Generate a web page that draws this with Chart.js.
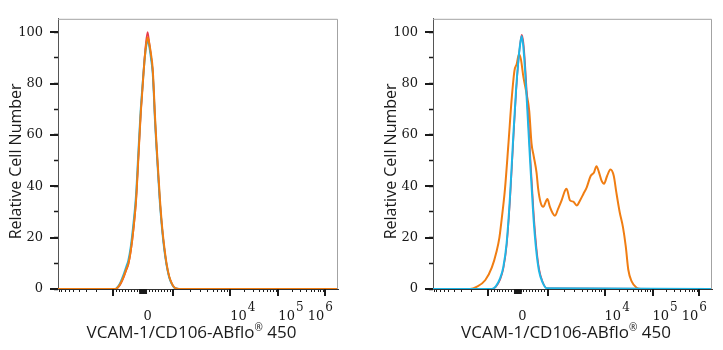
<!DOCTYPE html>
<html>
<head>
<meta charset="utf-8">
<script src="https://cdn.jsdelivr.net/npm/chart.js@4.4.1/dist/chart.umd.min.js"></script>
<style>
  body { margin: 0; background: #fff; }
  #wrap { position: relative; width: 723px; height: 350px; }
  canvas { position: absolute; top: 0; }
  #left { left: 0; }
  #right { left: 375px; }
</style>
</head>
<body>
<div id="wrap">
  <canvas id="left" width="361" height="350"></canvas>
  <canvas id="right" width="348" height="350"></canvas>
</div>
<script>
// x is the display channel of the histogram bin (0..1000 across the axis)

// left panel: all three samples sit on the same peak
var xLeft = [0, 205, 215, 224, 235, 245, 251, 260, 270, 279, 287, 295, 301, 307, 313, 320, 326, 332, 338, 342, 346, 351, 356, 364, 372, 380, 388, 397, 406, 414, 422, 432, 1000]
var orangeLeft = [0, 0, 0.8, 2.3, 5, 8, 9.7, 15, 24, 35, 51, 67.5, 77, 86.3, 93.5, 98, 95.5, 91.5, 86, 78, 68, 58, 49, 35, 24, 16, 9.7, 5, 2.3, 0.8, 0.2, 0, 0]
var redLeft = [0, 0, 0.6, 2, 4.6, 7.6, 9.4, 14.6, 23.5, 34.5, 50.5, 67, 77, 87, 95, 100, 96, 91, 85, 77, 67, 57, 48, 34, 23.5, 15.5, 9.4, 4.8, 2.2, 0.7, 0.2, 0, 0]
var cyanLeft = [0, 0, 1.0, 2.8, 5.8, 9, 11, 16.5, 26, 37, 53, 69, 78, 86.5, 93, 97, 94.5, 90, 84.5, 76.5, 66.5, 56.5, 47.5, 33.5, 23, 15, 9.2, 4.6, 2.1, 0.7, 0.2, 0, 0]

// right panel: controls on the peak, stained sample broad
var xPeakRight = [0, 210, 225, 240, 252, 264, 276, 288, 298, 306, 312, 318, 324, 330, 338, 348, 360, 370, 380, 393, 408, 1000]
var cyanRight = [0, 0, 1, 4, 8.5, 18, 36, 60, 78, 89, 95, 98.5, 94, 85, 70, 50, 28, 15, 7, 2.5, 0.3, 0]
var redRight = [0, 0, 0.8, 3.5, 7.8, 17, 34.5, 58, 77, 88.5, 95, 99, 96, 88, 73, 53, 31, 17, 8, 2.8, 0.3, 0]
var xBroadRight = [0, 133, 156, 187, 211, 228, 238, 246, 258, 270, 282, 292, 300, 308, 315, 324, 336, 345, 353, 361, 371, 377, 385, 395, 410, 419, 429, 437, 449, 461, 473, 479, 491, 503, 515, 527, 539, 551, 565, 577, 586, 595, 604, 613, 624, 636, 648, 657, 669, 681, 691, 700, 712, 730, 745, 1000]
var orangeRight = [0, 0, 0.8, 3.4, 8.4, 14.7, 20, 27, 39, 56, 74, 85, 87.6, 91.4, 89.5, 82.6, 75.7, 69.3, 56.8, 51.7, 45.4, 39, 34, 32, 35, 32, 29.5, 28.5, 31.4, 34.5, 38.3, 39, 34.5, 34, 32.5, 34.5, 37, 39.6, 44, 45.4, 47.8, 45.4, 42.2, 41, 44, 46.5, 44, 37.7, 30, 24, 16.5, 7.5, 3, 0.5, 0, 0]

// axis: channel of -10^3, 0, 10^3, 10^4, 10^5, 10^6
var decadePos = [197.5, 304, 412, 615, 787, 955]
var xTickLabels = ['0', '10^4', '10^5', '10^6']
var xTickLabelPos = [320, 615, 787, 955]
var yTickValues = [0, 20, 40, 60, 80, 100]

var COLORS = {orange: '#f07d12', cyan: '#1fb6e6', red: '#e8394a'}

// minor / major tick channels for the biexponential axis
var majorTicks = [decadePos[0], decadePos[2], decadePos[3], decadePos[4], decadePos[5]]
var blockTicks = []
var minorTicks = []
for (var m = 2; m <= 9; m++) minorTicks.push(decadePos[0] - 203 * Math.log10(m))
for (var k = 1; k <= 9; k++) {
  minorTicks.push(decadePos[1] - k * (decadePos[1] - decadePos[0]) / 10)
  minorTicks.push(decadePos[1] + k * (decadePos[2] - decadePos[1]) / 10)
  blockTicks.push(decadePos[1] - k * (decadePos[1] - decadePos[0]) / 80)
  blockTicks.push(decadePos[1] + k * (decadePos[2] - decadePos[1]) / 80)
}
blockTicks.push(decadePos[1])
for (var d = 2; d <= 4; d++) {
  for (var m = 2; m <= 9; m++) minorTicks.push(decadePos[d] + (decadePos[d + 1] - decadePos[d]) * Math.log10(m))
}
var allTicks = majorTicks.concat(minorTicks, blockTicks).sort(function (a, b) { return a - b })

function pts(xs, ys) {
  return xs.map(function (x, i) { return {x: x, y: ys[i]} })
}

function line(xs, ys, color, width) {
  return {
    data: pts(xs, ys),
    borderColor: color,
    borderWidth: width,
    pointRadius: 0,
    fill: false,
    cubicInterpolationMode: 'monotone'
  }
}

var axisDecor = {
  id: 'axisDecor',
  afterDraw: function (chart) {
    var ctx = chart.ctx, a = chart.chartArea, xs = chart.scales.x, ys = chart.scales.y
    ctx.save()
    // frame top / right
    ctx.strokeStyle = '#a3a3a3'
    ctx.lineWidth = 1
    ctx.beginPath()
    ctx.moveTo(a.left, a.top + 0.5)
    ctx.lineTo(a.right - 0.5, a.top + 0.5)
    ctx.lineTo(a.right - 0.5, a.bottom)
    ctx.stroke()

    // long ticks
    ctx.strokeStyle = '#1a1a1a'
    ctx.lineWidth = 2
    yTickValues.forEach(function (v) {
      var py = Math.round(ys.getPixelForValue(v))
      ctx.beginPath(); ctx.moveTo(a.left - 8, py); ctx.lineTo(a.left, py); ctx.stroke()
    })
    majorTicks.forEach(function (v) {
      var px = Math.round(xs.getPixelForValue(v))
      ctx.beginPath(); ctx.moveTo(px, a.bottom); ctx.lineTo(px, a.bottom + 7); ctx.stroke()
    })
    ctx.lineWidth = 1
    blockTicks.forEach(function (v) {
      var px = xs.getPixelForValue(v)
      ctx.beginPath(); ctx.moveTo(px, a.bottom); ctx.lineTo(px, a.bottom + 5); ctx.stroke()
    })

    // x tick labels, 10 with raised exponent
    ctx.fillStyle = '#1a1a1a'
    ctx.textBaseline = 'alphabetic'
    xTickLabels.forEach(function (lab, i) {
      var px = xs.getPixelForValue(xTickLabelPos[i])
      var parts = lab.split('^')
      ctx.font = '13px "DejaVu Serif"'
      if (parts.length === 1) {
        ctx.textAlign = 'center'
        ctx.fillText(lab, px, 320)
        return
      }
      var w1 = ctx.measureText(parts[0]).width
      ctx.font = '12px "DejaVu Serif"'
      var w2 = ctx.measureText(parts[1]).width
      var x0 = Math.min(px, a.right - 5 - w1 - 1 - w2)
      ctx.textAlign = 'left'
      ctx.font = '13px "DejaVu Serif"'
      ctx.fillText(parts[0], x0, 320)
      ctx.font = '12px "DejaVu Serif"'
      ctx.fillText(parts[1], x0 + w1 + 1, 311)
    })

    // x title
    var t1 = 'VCAM-1/CD106-ABflo', t2 = '\u00AE', t3 = ' 450'
    ctx.font = '17px "Open Sans"'
    var w1 = ctx.measureText(t1).width, w3 = ctx.measureText(t3).width
    ctx.font = '10px "Open Sans"'
    var w2 = ctx.measureText(t2).width
    var cx = (a.left + a.right) / 2 - 6.5
    var x0 = cx - (w1 + w2 + w3) / 2
    ctx.textAlign = 'left'
    ctx.font = '17px "Open Sans"'
    ctx.fillText(t1, x0, 338)
    ctx.font = '10px "Open Sans"'
    ctx.fillText(t2, x0 + w1, 331)
    ctx.font = '17px "Open Sans"'
    ctx.fillText(t3, x0 + w1 + w2, 338)

    // y title
    ctx.translate(a.left - 37, (a.top + a.bottom) / 2 + 7.5)
    ctx.rotate(-Math.PI / 2)
    ctx.textAlign = 'center'
    ctx.font = '16px "Open Sans"'
    ctx.fillText('Relative Cell Number', 0, 0)
    ctx.restore()
  }
}

function makeChart(id, datasets, padRight) {
  return new Chart(document.getElementById(id), {
    type: 'line',
    data: {datasets: datasets},
    plugins: [axisDecor],
    options: {
      responsive: false,
      animation: false,
      layout: {padding: {left: 0, right: padRight, top: 10, bottom: 0}},
      plugins: {legend: {display: false}, tooltip: {enabled: false}},
      scales: {
        x: {
          type: 'linear',
          min: 0,
          max: 1000,
          afterBuildTicks: function (scale) {
            scale.ticks = allTicks.map(function (v) { return {value: v} })
          },
          afterFit: function (scale) { scale.height = 61 },
          ticks: {display: false, autoSkip: false},
          grid: {
            drawOnChartArea: false,
            drawTicks: true,
            tickLength: 3,
            tickColor: '#1a1a1a',
            tickWidth: 1
          },
          border: {display: true, color: '#333', width: 1}
        },
        y: {
          min: 0,
          max: 105.2,
          afterBuildTicks: function (scale) {
            var t = []
            for (var v = 0; v <= 105; v += 5) t.push({value: v})
            scale.ticks = t
          },
          afterFit: function (scale) { scale.width = 58 },
          ticks: {
            padding: 11,
            color: '#1a1a1a',
            font: {family: 'DejaVu Serif', size: 13},
            callback: function (v) { return v % 20 === 0 ? String(v) : '' }
          },
          grid: {
            drawOnChartArea: false,
            drawTicks: true,
            tickLength: 4,
            tickColor: '#1a1a1a',
            tickWidth: 1.5
          },
          border: {display: true, color: '#555', width: 1}
        }
      }
    }
  })
}

// first dataset is drawn on top
makeChart('left', [
  line(xLeft, orangeLeft, COLORS.orange, 2),
  line(xLeft, cyanLeft, COLORS.cyan, 2),
  line(xLeft, redLeft, COLORS.red, 1.6)
], 23)

makeChart('right', [
  line(xPeakRight, cyanRight, COLORS.cyan, 2),
  line(xPeakRight, redRight, COLORS.red, 1.6),
  line(xBroadRight, orangeRight, COLORS.orange, 2)
], 11)
</script>
</body>
</html>
